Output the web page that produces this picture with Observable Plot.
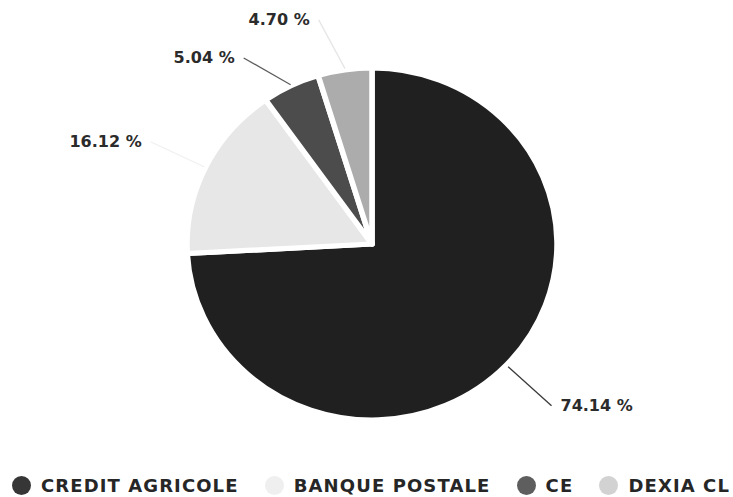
<!DOCTYPE html>
<html>
<head>
<meta charset="utf-8">
<script src="https://cdn.jsdelivr.net/npm/d3@7"></script>
<script src="https://cdn.jsdelivr.net/npm/@observablehq/plot@0.6"></script>
<style>
  html, body { margin: 0; padding: 0; background: #fff; }
  #wrap { width: 733px; height: 497px; position: relative; overflow: hidden; }
  #legend {
    display: flex; justify-content: space-between; align-items: center;
    box-sizing: border-box; width: 733px; height: 32px; padding: 8px 3px 0 12px;
    font-family: "DejaVu Sans", sans-serif; font-weight: bold; font-size: 18px;
    letter-spacing: 1.1px; color: #262626;
  }
  .item { display: flex; align-items: center; white-space: nowrap; }
  .dot { width: 19px; height: 19px; border-radius: 50%; margin-right: 10px; }
</style>
</head>
<body>
<div id="wrap"><div id="chart"></div><div id="legend"></div></div>
<script>
// ---- data ----
const categories = ["CREDIT AGRICOLE", "BANQUE POSTALE", "CE", "DEXIA CL"];
const shares = [74.14, 16.12, 5.04, 4.70];
const shareLabels = ["74.14 %", "16.12 %", "5.04 %", "4.70 %"];

// ---- styles ----
const sliceColors = ["#202020", "#e7e7e7", "#4c4c4c", "#acacac"];
const connectorColors = ["#3a3a3a", "#f2f2f2", "#5c5c5c", "#e6e6e6"];
const legendColors = ["#363636", "#efefef", "#5e5e5e", "#d2d2d2"];

// ---- layout (in radius units) ----
const labelRadius = 1.333;
const labelGap = 0.216;
const labelTop = 1.276;

const rows = categories.map((c, i) => ({category: c, share: shares[i], label: shareLabels[i],
  color: sliceColors[i], connector: connectorColors[i]}));
const arcs = d3.pie().sort(null).value(d => d.share)(rows);

// label placement: start from the mid angle, then push labels apart on each side
const placed = arcs.map(a => {
  const mid = (a.startAngle + a.endAngle) / 2;
  return {...a.data, mid, side: Math.sin(mid) >= 0 ? 1 : -1,
    ex: Math.sin(mid), ey: Math.cos(mid), ny: labelRadius * Math.cos(mid)};
});
for (const side of [1, -1]) {
  const group = placed.filter(d => d.side === side).sort((a, b) => b.ny - a.ny);
  let prev = labelTop + labelGap;
  for (const d of group) {
    d.ly = Math.min(d.ny, prev - labelGap);
    prev = d.ly;
    const polar = labelRadius * Math.sin(d.mid);
    const circ = side * Math.sqrt(Math.max(labelRadius * labelRadius - d.ly * d.ly, 0));
    d.lx = (polar + circ) / 2;
  }
}

const pieMark = (index, scales) => {
  const cx = scales.x(0), cy = scales.y(0);
  const rx = scales.x(1) - scales.x(0), ry = scales.y(0) - scales.y(1);
  const arc = d3.arc().innerRadius(0).outerRadius(rx);
  const g = d3.create("svg:g").attr("transform", `translate(${cx},${cy}) scale(1,${ry / rx})`);
  g.selectAll("path").data(arcs).join("path")
    .attr("d", arc)
    .attr("fill", d => d.data.color)
    .attr("stroke", "#fff")
    .attr("stroke-width", 5.5)
    .attr("stroke-linejoin", "round");
  return g.node();
};

const chart = Plot.plot({
  width: 733,
  height: 465,
  marginLeft: 187,
  marginRight: 176,
  marginTop: 68,
  marginBottom: 45,
  x: {domain: [-1, 1], axis: null},
  y: {domain: [-1, 1], axis: null},
  color: {type: "identity"},
  marks: [
    pieMark,
    Plot.link(placed, {x1: d => d.ex * 1.01, y1: d => d.ey * 1.01, x2: "lx", y2: "ly",
      stroke: "connector", strokeWidth: 1.3}),
    Plot.text(placed.filter(d => d.side > 0), {x: "lx", y: "ly", text: "label", textAnchor: "start",
      dx: 9, fontSize: 16, fontWeight: "bold", fill: "#2b2b2b", fontFamily: "DejaVu Sans"}),
    Plot.text(placed.filter(d => d.side < 0), {x: "lx", y: "ly", text: "label", textAnchor: "end",
      dx: -9, fontSize: 16, fontWeight: "bold", fill: "#2b2b2b", fontFamily: "DejaVu Sans"})
  ]
});
document.getElementById("chart").appendChild(chart);

const legend = d3.select("#legend");
const items = legend.selectAll(".item").data(rows).join("div").attr("class", "item");
items.append("div").attr("class", "dot").style("background", (d, i) => legendColors[i]);
items.append("span").text(d => d.category);
</script>
</body>
</html>
